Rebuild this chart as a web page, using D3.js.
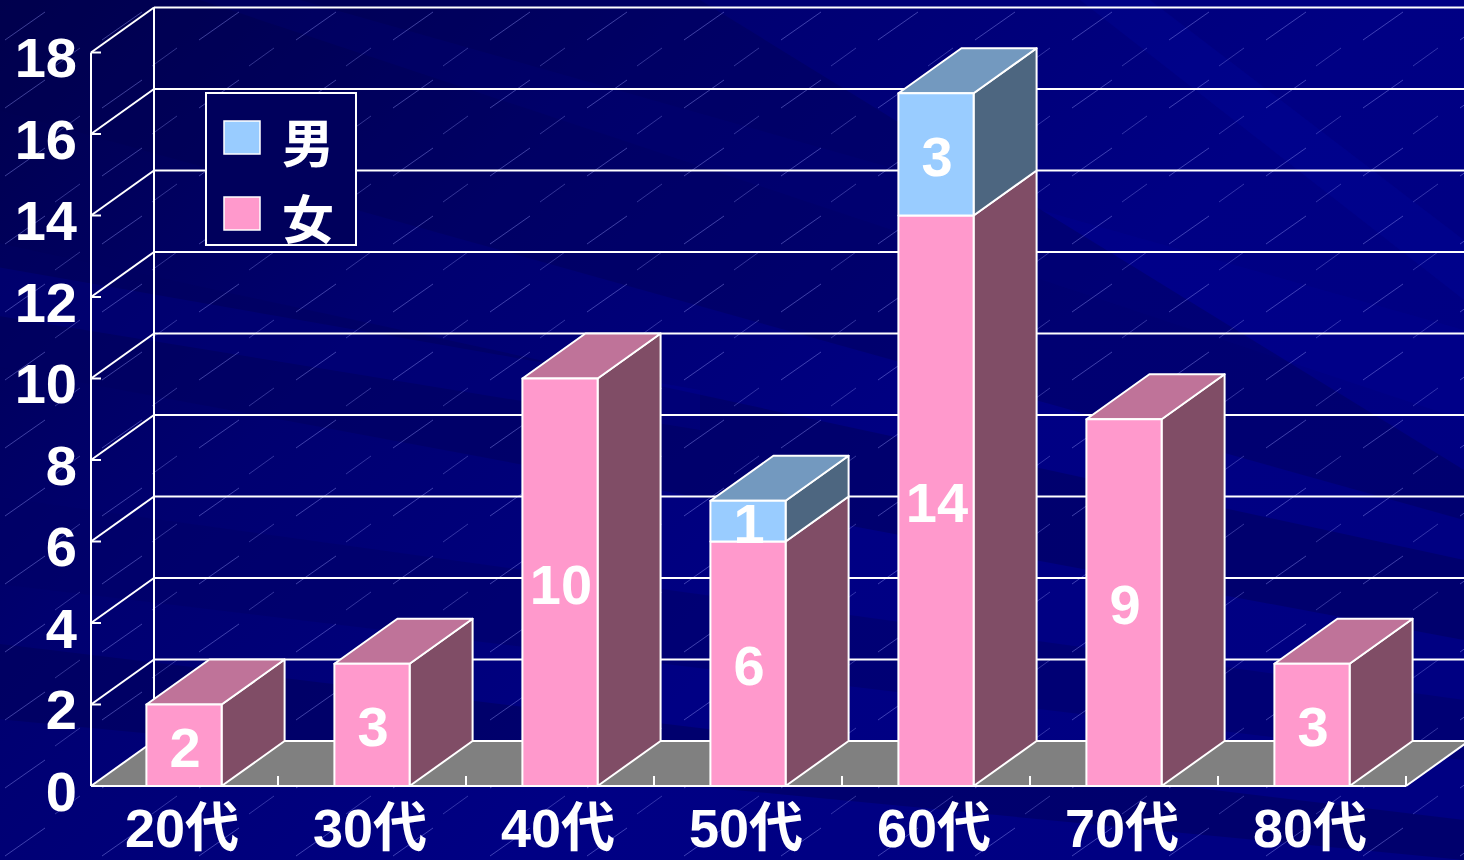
<!DOCTYPE html>
<html><head><meta charset="utf-8">
<script src="https://cdn.jsdelivr.net/npm/d3@7"></script>
<style>html,body{margin:0;padding:0;background:#000080;overflow:hidden}</style>
</head><body><svg id="c" width="1464" height="860"></svg>
<script>
const categories = ["20代","30代","40代","50代","60代","70代","80代"];
const female = [2, 3, 10, 6, 14, 9, 3];
const male   = [0, 0, 0, 1, 3, 0, 0];
const yTicks = [0, 2, 4, 6, 8, 10, 12, 14, 16, 18];
const seriesNames = ["男", "女"];

const W = 1464, H = 860;
const DX = 63, DY = -45;
const svg = d3.select("#c");
const FONT = "'Liberation Sans', Arial, 'Noto Sans CJK JP', sans-serif";

// ---- background ----
const defs = svg.append("defs");
const bg = defs.append("linearGradient").attr("id","bg").attr("x1","0").attr("y1","0").attr("x2","1").attr("y2","0.6");
bg.append("stop").attr("offset","0").attr("stop-color","#00004c");
bg.append("stop").attr("offset","0.35").attr("stop-color","#000070");
bg.append("stop").attr("offset","0.7").attr("stop-color","#000084");
bg.append("stop").attr("offset","1").attr("stop-color","#000082");
svg.append("rect").attr("width",W).attr("height",H).attr("fill","url(#bg)");
// soft bands
const bands = [
  {p:[[-200,200],[1464,560],[1464,640],[-200,330]], c:"#000060", o:0.6},
  {p:[[-200,470],[1464,700],[1464,760],[-200,560]], c:"#000066", o:0.5},
  {p:[[300,0],[1464,330],[1464,420],[200,0]], c:"#0000a0", o:0.2},
  {p:[[-200,620],[1464,820],[1464,860],[-200,700]], c:"#000055", o:0.45},
  {p:[[1150,0],[1464,240],[1464,300],[1080,0]], c:"#0008a8", o:0.22},
  {p:[[0,0],[700,0],[1464,470],[1464,520],[0,110]], c:"#000050", o:0.35},
  {p:[[-100,250],[700,390],[700,430],[-100,300]], c:"#0000a8", o:0.2}
];
svg.append("g").selectAll("polygon").data(bands).join("polygon")
  .attr("points",d=>d.p.map(q=>q.join(",")).join(" "))
  .attr("fill",d=>d.c).attr("opacity",d=>d.o);
// thin diagonal streaks pattern
const pat = defs.append("pattern").attr("id","streak").attr("patternUnits","userSpaceOnUse")
  .attr("width",97).attr("height",68);
pat.append("line").attr("x1",5).attr("y1",40).attr("x2",45).attr("y2",12)
  .attr("stroke","#9aa0ff").attr("stroke-width",0.8).attr("opacity",0.5);
pat.append("line").attr("x1",55).attr("y1",66).attr("x2",80).attr("y2",48)
  .attr("stroke","#9aa0ff").attr("stroke-width",0.8).attr("opacity",0.4);
svg.append("rect").attr("width",W).attr("height",H).attr("fill","url(#streak)");

// ---- scales ----
const x = d3.scaleBand().domain(categories).range([90, 1406]).paddingInner(0.6).paddingOuter(0.3);
const xOuter = d3.scaleBand().domain(categories).range([90, 1406]).padding(0);
const y = d3.scaleLinear().domain([0, 18]).range([786, 52.5]);
const x0 = 91, xEnd = 1406;

const g = svg.append("g").attr("fill","none").attr("stroke","#fff").attr("stroke-width",2);
// back wall gridlines
g.selectAll("line.grid").data(yTicks).join("line").attr("class","grid")
  .attr("x1",x0+DX).attr("x2",W+5).attr("y1",d=>y(d)+DY).attr("y2",d=>y(d)+DY);
g.append("line").attr("x1",x0+DX).attr("x2",x0+DX).attr("y1",y(0)+DY).attr("y2",y(18)+DY);

// floor
svg.append("polygon")
  .attr("points",[[x0,y(0)],[x0+DX,y(0)+DY],[xEnd+DX,y(0)+DY],[xEnd,y(0)]].map(q=>q.join(",")).join(" "))
  .attr("fill","#808080");
const g2 = svg.append("g").attr("stroke","#fff").attr("stroke-width",2).attr("fill","none");
g2.append("line").attr("x1",x0+DX).attr("x2",W+5).attr("y1",y(0)+DY).attr("y2",y(0)+DY);
g2.append("line").attr("x1",xEnd).attr("y1",y(0)).attr("x2",xEnd+DX).attr("y2",y(0)+DY);
// side wall diagonals
g2.selectAll("line.diag").data(yTicks).join("line").attr("class","diag")
  .attr("x1",x0).attr("y1",d=>y(d)).attr("x2",x0+DX).attr("y2",d=>y(d)+DY);
// front axes
g2.append("line").attr("x1",x0).attr("x2",x0).attr("y1",y(0)).attr("y2",y(18));
g2.append("line").attr("x1",x0).attr("x2",xEnd).attr("y1",y(0)).attr("y2",y(0));
g2.selectAll("line.yt").data(yTicks).join("line").attr("class","yt")
  .attr("x1",x0).attr("x2",x0+10).attr("y1",d=>y(d)).attr("y2",d=>y(d));
g2.selectAll("line.xt").data(categories).join("line").attr("class","xt")
  .attr("x1",d=>xOuter(d)+xOuter.bandwidth()).attr("x2",d=>xOuter(d)+xOuter.bandwidth())
  .attr("y1",y(0)).attr("y2",y(0)-10);

// ---- bars ----
const colors = {
  "女": {front:"#ff99cc", top:"#bf7399", side:"#804d66"},
  "男": {front:"#99ccff", top:"#7399bf", side:"#4d6680"}
};
const segs = [];
categories.forEach((c,i)=>{
  const f = female[i], m = male[i];
  const list = [];
  if (f>0) list.push({cat:c, s:"女", v0:0, v1:f, v:f});
  if (m>0) list.push({cat:c, s:"男", v0:f, v1:f+m, v:m});
  list.forEach((d,k)=>{ d.isTop = (k===list.length-1); segs.push(d); });
});
const bw = x.bandwidth();
const pts = a => a.map(q=>q.join(",")).join(" ");
const bars = svg.append("g").attr("stroke","#fff").attr("stroke-width",2).attr("stroke-linejoin","round");
segs.forEach(d=>{
  const xl = x(d.cat), xr = xl + bw, yt = y(d.v1), yb = y(d.v0);
  const col = colors[d.s];
  bars.append("polygon").attr("fill",col.side)
    .attr("points",pts([[xr,yb],[xr+DX,yb+DY],[xr+DX,yt+DY],[xr,yt]]));
  if (d.isTop) bars.append("polygon").attr("fill",col.top)
    .attr("points",pts([[xl,yt],[xl+DX,yt+DY],[xr+DX,yt+DY],[xr,yt]]));
  bars.append("rect").attr("fill",col.front).attr("x",xl).attr("y",yt).attr("width",bw).attr("height",yb-yt);
});
// value labels
svg.append("g").selectAll("text").data(segs).join("text")
  .attr("x",d=>x(d.cat)+bw/2+1).attr("y",d=>(y(d.v0)+y(d.v1))/2+2)
  .attr("text-anchor","middle").attr("dominant-baseline","central")
  .attr("font-family",FONT).attr("font-weight","bold").attr("font-size",56)
  .attr("fill","#fff").text(d=>d.v);

// y tick labels
svg.append("g").selectAll("text").data(yTicks).join("text")
  .attr("x",77).attr("y",d=>y(d)+5).attr("text-anchor","end").attr("dominant-baseline","central")
  .attr("font-family",FONT).attr("font-weight","bold").attr("font-size",56)
  .attr("fill","#fff").text(d=>d);
// x labels
svg.append("g").selectAll("text").data(categories).join("text")
  .attr("x",d=>x(d)+bw/2-2).attr("y",847).attr("text-anchor","middle")
  .attr("font-family",FONT).attr("font-weight","bold").attr("font-size",54)
  .attr("fill","#fff").text(d=>d);

// ---- legend ----
const lg = svg.append("g");
lg.append("rect").attr("x",206).attr("y",93).attr("width",150).attr("height",152)
  .attr("fill","#00005c").attr("stroke","#fff").attr("stroke-width",2);
seriesNames.forEach((s,i)=>{
  const cy = 138 + i*76;
  lg.append("rect").attr("x",224).attr("y",cy-17).attr("width",36).attr("height",33)
    .attr("fill",colors[s].front).attr("stroke","#fff").attr("stroke-width",1.5);
  lg.append("text").attr("x",282).attr("y",cy+2).attr("dominant-baseline","central")
    .attr("font-family","'Noto Sans CJK JP', sans-serif").attr("font-weight","bold").attr("font-size",52)
    .attr("fill","#fff").text(s);
});
</script></body></html>
